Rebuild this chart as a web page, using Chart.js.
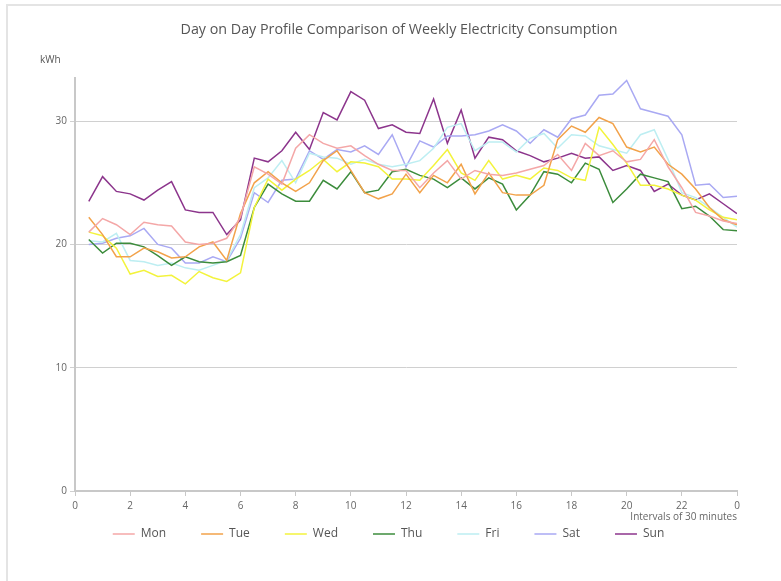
<!DOCTYPE html>
<html>
<head>
<meta charset="UTF-8">
<title>Weekly Electricity Consumption</title>
<script src="https://cdn.jsdelivr.net/npm/chart.js@4"></script>
<style>
    body { margin: 0; background: #fff; overflow: hidden; }
    #frame { position: absolute; left: 6px; top: 4px; width: 780px; height: 580px;
             border-left: 2px solid #e4e4e4; border-top: 2px solid #e4e4e4; }
    #myChart { position: absolute; left: 0; top: 0; }
</style>
</head>
<body>
<div id="frame"></div>
<canvas id="myChart" width="781" height="581"></canvas>
<script>
// half hour slots, in hours
var slots = [0.5, 1, 1.5, 2, 2.5, 3, 3.5, 4, 4.5, 5, 5.5, 6,
             6.5, 7, 7.5, 8, 8.5, 9, 9.5, 10, 10.5, 11, 11.5, 12,
             12.5, 13, 13.5, 14, 14.5, 15, 15.5, 16, 16.5, 17, 17.5, 18,
             18.5, 19, 19.5, 20, 20.5, 21, 21.5, 22, 22.5, 23, 23.5, 24]

var days = ['Mon', 'Tue', 'Wed', 'Thu', 'Fri', 'Sat', 'Sun']

var mon = [21.0, 22.1, 21.6, 20.8, 21.8, 21.6, 21.5, 20.2, 20.0, 20.1, 20.5, 22.2,
           26.3, 25.7, 24.9, 27.8, 28.9, 28.2, 27.8, 28.0, 27.2, 26.5, 26.0, 26.0,
           24.6, 25.8, 26.8, 25.3, 26.0, 25.7, 25.6, 25.8, 26.1, 26.4, 27.3, 26.0,
           28.2, 27.2, 27.6, 26.7, 26.9, 28.5, 26.3, 24.6, 22.6, 22.3, 21.9, 21.7]
var tue = [22.2, 20.8, 19.0, 19.0, 19.7, 19.4, 18.9, 19.0, 19.8, 20.2, 18.7, 22.5,
           25.0, 25.9, 25.0, 24.3, 25.0, 26.8, 27.6, 26.0, 24.2, 23.7, 24.1, 25.7,
           24.2, 25.6, 25.0, 26.5, 24.1, 25.8, 24.2, 24.0, 24.0, 24.8, 28.5, 29.6,
           29.1, 30.3, 29.8, 27.9, 27.5, 27.9, 26.5, 25.7, 24.5, 23.0, 22.0, 21.6]
var wed = [21.0, 20.7, 19.7, 17.6, 17.9, 17.4, 17.5, 16.8, 17.8, 17.3, 17.0, 17.7,
           23.0, 25.3, 24.4, 25.3, 26.0, 26.9, 25.9, 26.7, 26.6, 26.3, 25.3, 25.3,
           25.2, 26.4, 27.7, 25.8, 25.2, 26.8, 25.3, 25.6, 25.3, 26.2, 26.0, 25.4,
           25.2, 29.5, 28.1, 26.6, 24.8, 24.8, 24.5, 24.0, 23.6, 22.8, 22.2, 22.0]
var thu = [20.4, 19.3, 20.1, 20.1, 19.8, 19.1, 18.3, 19.0, 18.6, 18.5, 18.6, 19.1,
           23.0, 24.9, 24.1, 23.5, 23.5, 25.2, 24.5, 25.9, 24.2, 24.4, 25.9, 26.1,
           25.6, 25.3, 24.6, 25.4, 24.5, 25.4, 24.9, 22.8, 24.0, 25.9, 25.7, 25.0,
           26.6, 26.1, 23.4, 24.5, 25.7, 25.4, 25.1, 22.9, 23.1, 22.3, 21.2, 21.1]
var fri = [20.3, 20.2, 20.9, 18.7, 18.6, 18.3, 18.5, 18.1, 17.9, 18.3, 18.7, 20.8,
           24.6, 25.4, 26.8, 25.0, 27.4, 27.1, 27.0, 26.5, 26.9, 26.5, 26.3, 26.5,
           26.8, 27.8, 29.5, 29.8, 27.6, 28.3, 28.3, 27.5, 28.6, 29.0, 27.8, 28.9,
           28.8, 28.0, 27.7, 27.4, 28.9, 29.3, 26.9, 24.2, 23.8, 23.0, 22.2, 21.4]
var sat = [20.0, 20.1, 20.5, 20.7, 21.3, 20.0, 19.7, 18.5, 18.5, 19.0, 18.6, 20.5,
           24.2, 23.4, 25.2, 25.3, 27.6, 26.9, 27.7, 27.5, 28.0, 27.3, 28.9, 26.3,
           28.4, 27.9, 28.8, 28.8, 28.9, 29.2, 29.7, 29.2, 28.2, 29.3, 28.7, 30.2,
           30.5, 32.1, 32.2, 33.3, 31.0, 30.7, 30.4, 28.9, 24.8, 24.9, 23.8, 23.9]
var sun = [23.5, 25.5, 24.3, 24.1, 23.6, 24.4, 25.1, 22.8, 22.6, 22.6, 20.8, 22.0,
           27.0, 26.7, 27.6, 29.1, 27.7, 30.7, 30.1, 32.4, 31.7, 29.4, 29.7, 29.1,
           29.0, 31.8, 28.2, 30.9, 27.0, 28.7, 28.5, 27.6, 27.2, 26.7, 27.0, 27.4,
           27.0, 27.1, 26.0, 26.4, 26.0, 24.3, 24.9, 24.0, 23.6, 24.1, 23.3, 22.5]

var yTicks = [0, 10, 20, 30]
var xTicks = [0, 2, 4, 6, 8, 10, 12, 14, 16, 18, 20, 22, 24]

var chartTitle = 'Day on Day Profile Comparison of Weekly Electricity Consumption'
var yUnit = 'kWh'
var xTitle = 'Intervals of 30 minutes'

var colors = ['#f4a7a7', '#f2a24a', '#f3f33c', '#3c8c3c', '#bdeef2', '#a9a9f3', '#8c358c']
var values = [mon, tue, wed, thu, fri, sat, sun]

var FONT = '"Open Sans", "Noto Sans", sans-serif'

var datasets = []
for (let i = 0; i < days.length; i++) {
    datasets.push({
        label: days[i],
        data: values[i],
        borderColor: colors[i],
        backgroundColor: colors[i],
        borderWidth: 1.5,
        pointRadius: 0,
        fill: false,
        tension: 0
    })
}

// title and unit label drawn on the canvas
var extraText = {
    id: 'extraText',
    afterDraw(chart) {
        let ctx = chart.ctx
        ctx.save()
        ctx.fillStyle = '#555'
        ctx.textBaseline = 'middle'
        ctx.textAlign = 'center'
        ctx.font = '14.3px ' + FONT
        ctx.fillText(chartTitle, 399, 30)
        ctx.textAlign = 'left'
        ctx.font = '10px ' + FONT
        ctx.fillText(yUnit, 40, 60)
        ctx.restore()
    }
}

var ctx = document.getElementById('myChart').getContext('2d')
var chart = new Chart(ctx, {
    type: 'line',
    data: {
        labels: slots,
        datasets: datasets
    },
    plugins: [extraText],
    options: {
        responsive: false,
        animation: false,
        layout: { padding: { top: 78, left: 0, right: 4, bottom: 31 } },
        plugins: {
            title: { display: false },
            tooltip: { enabled: false },
            legend: {
                position: 'bottom',
                labels: {
                    usePointStyle: true,
                    pointStyle: 'line',
                    pointStyleWidth: 22,
                    padding: 35,
                    color: '#555',
                    font: { family: FONT, size: 12 }
                }
            }
        },
        scales: {
            x: {
                type: 'linear',
                min: 0,
                max: 24,
                afterBuildTicks: function(s) { s.ticks = xTicks.map(v => ({ value: v })) },
                afterFit: function(s) { s.height = 2 },
                ticks: {
                    // mirror stops the labels being clipped to the thin axis box
                    mirror: true,
                    padding: -21,
                    color: '#666',
                    maxRotation: 0,
                    autoSkip: false,
                    font: { family: FONT, size: 10 },
                    callback: function(v) { return v === 24 ? '0' : String(v) }
                },
                grid: { drawOnChartArea: false, drawTicks: true, tickLength: 5, color: '#c8c8c8' },
                border: { color: '#c8c8c8', width: 2 },
                title: {
                    display: true,
                    text: xTitle,
                    align: 'end',
                    color: '#666',
                    font: { family: FONT, size: 10 },
                    padding: { top: 0, bottom: -30 }
                }
            },
            y: {
                min: 0,
                max: 33.5,
                afterBuildTicks: function(s) { s.ticks = yTicks.map(v => ({ value: v })) },
                afterFit: function(s) { s.width = 75 },
                ticks: {
                    color: '#666',
                    padding: 3,
                    font: { family: FONT, size: 10 }
                },
                grid: { color: '#d0d0d0', lineWidth: 1, tickLength: 5 },
                border: { color: '#c8c8c8', width: 2 }
            },
            spacer: {
                position: 'right',
                display: true,
                afterFit: function(s) { s.width = 40 },
                ticks: { display: false },
                grid: { display: false },
                border: { display: false }
            }
        }
    }
})
</script>
</body>
</html>
